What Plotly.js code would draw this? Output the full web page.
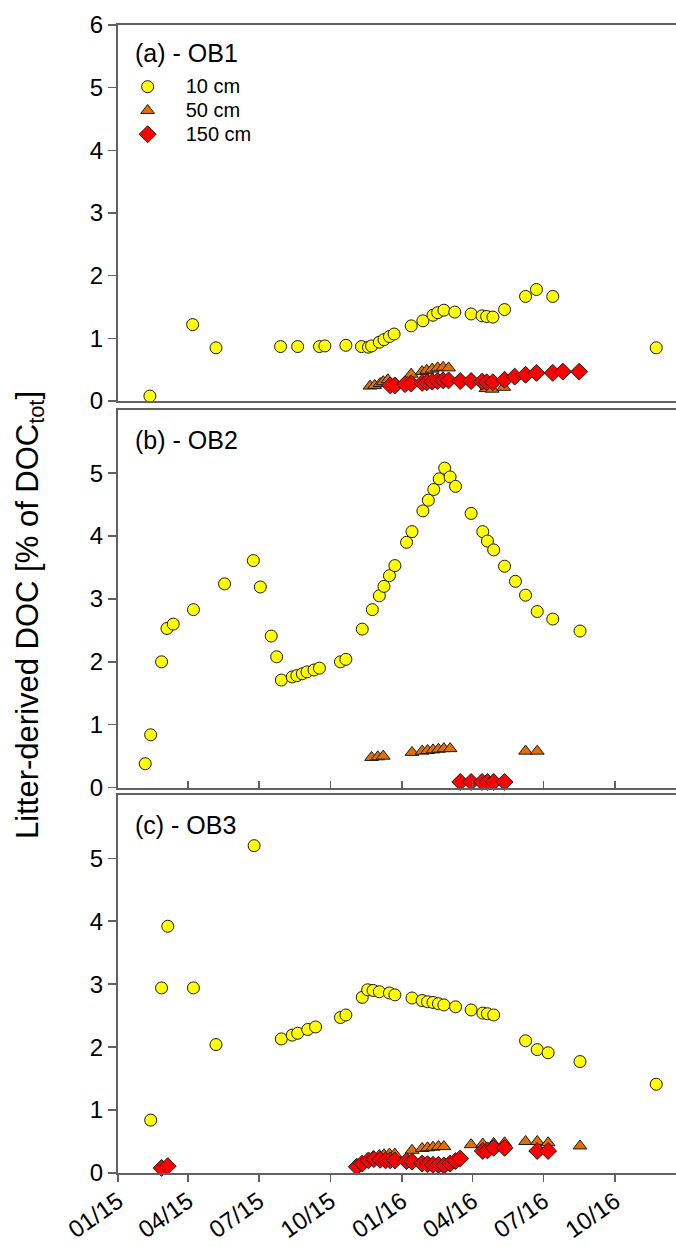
<!DOCTYPE html>
<html><head><meta charset="utf-8">
<script src="https://cdn.plot.ly/plotly-3.0.1.min.js"></script>
<style>body{margin:0;background:#fff}#chart{width:676px;height:1247px}</style>
</head><body><div id="chart"></div>
<script>
// ---------- Data ----------
const seriesNames = ['10 cm', '50 cm', '150 cm'];
const panelLabels = ['(a) - OB1', '(b) - OB2', '(c) - OB3'];
const xTickVals = ['2015-01-01','2015-04-01','2015-07-01','2015-10-01','2016-01-01','2016-04-01','2016-07-01','2016-10-01'];
const xTickText = ['01/15','04/15','07/15','10/15','01/16','04/16','07/16','10/16'];

// OB1
const ob1_10_x = ['2015-02-11','2015-04-07','2015-05-07','2015-07-29','2015-08-20','2015-09-17','2015-09-24','2015-10-21','2015-11-10','2015-11-19','2015-11-23','2015-12-03','2015-12-09','2015-12-16','2015-12-22','2016-01-13','2016-01-28','2016-02-10','2016-02-16','2016-02-24','2016-03-09','2016-03-30','2016-04-13','2016-04-19','2016-04-27','2016-05-12','2016-06-08','2016-06-22','2016-07-13','2016-11-23'];
const ob1_10_y = [0.08,1.22,0.85,0.87,0.87,0.87,0.88,0.89,0.87,0.86,0.88,0.94,0.98,1.03,1.07,1.20,1.28,1.37,1.41,1.45,1.42,1.39,1.36,1.35,1.34,1.46,1.67,1.78,1.67,0.85];
const ob1_50_x = ['2015-11-21','2015-11-27','2015-12-04','2015-12-08','2015-12-14','2016-01-13','2016-01-27','2016-02-02','2016-02-09','2016-02-16','2016-02-23','2016-03-01','2016-04-18','2016-04-26','2016-05-11'];
const ob1_50_y = [0.24,0.25,0.28,0.31,0.34,0.43,0.47,0.49,0.51,0.53,0.54,0.53,0.20,0.19,0.22];
const ob1_150_x = ['2015-12-17','2015-12-23','2016-01-05','2016-01-13','2016-01-27','2016-02-02','2016-02-09','2016-02-16','2016-02-23','2016-03-01','2016-03-16','2016-03-30','2016-04-13','2016-04-19','2016-04-27','2016-05-12','2016-05-25','2016-06-08','2016-06-22','2016-07-13','2016-07-26','2016-08-16'];
const ob1_150_y = [0.25,0.25,0.27,0.28,0.29,0.30,0.31,0.32,0.33,0.33,0.32,0.32,0.31,0.30,0.30,0.34,0.39,0.42,0.45,0.45,0.47,0.47];

// OB2
const ob2_10_x = ['2015-02-05','2015-02-12','2015-02-26','2015-03-05','2015-03-13','2015-04-08','2015-05-18','2015-06-24','2015-07-03','2015-07-17','2015-07-24','2015-07-30','2015-08-13','2015-08-19','2015-08-26','2015-09-01','2015-09-10','2015-09-17','2015-10-14','2015-10-21','2015-11-11','2015-11-24','2015-12-03','2015-12-09','2015-12-16','2015-12-23','2016-01-07','2016-01-14','2016-01-28','2016-02-04','2016-02-11','2016-02-18','2016-02-25','2016-03-03','2016-03-10','2016-03-30','2016-04-14','2016-04-20','2016-04-28','2016-05-12','2016-05-26','2016-06-08','2016-06-23','2016-07-13','2016-08-17'];
const ob2_10_y = [0.38,0.84,2.0,2.53,2.60,2.83,3.24,3.61,3.19,2.41,2.08,1.71,1.76,1.78,1.81,1.84,1.87,1.90,2.0,2.04,2.52,2.83,3.05,3.20,3.37,3.53,3.90,4.07,4.40,4.57,4.74,4.91,5.08,4.94,4.79,4.36,4.07,3.92,3.78,3.52,3.28,3.06,2.80,2.68,2.49];
const ob2_50_x = ['2015-11-23','2015-12-01','2015-12-08','2016-01-14','2016-01-27','2016-02-03','2016-02-10','2016-02-17','2016-02-24','2016-03-03','2016-06-08','2016-06-23'];
const ob2_50_y = [0.48,0.49,0.50,0.56,0.58,0.59,0.60,0.61,0.62,0.62,0.58,0.58];
const ob2_150_x = ['2016-03-16','2016-03-30','2016-04-13','2016-04-20','2016-04-28','2016-05-12'];
const ob2_150_y = [0.09,0.09,0.09,0.09,0.09,0.09];

// OB3
const ob3_10_x = ['2015-02-12','2015-02-26','2015-03-06','2015-04-08','2015-05-07','2015-06-25','2015-07-30','2015-08-13','2015-08-20','2015-09-02','2015-09-12','2015-10-14','2015-10-21','2015-11-11','2015-11-18','2015-11-25','2015-12-03','2015-12-16','2015-12-23','2016-01-14','2016-01-27','2016-02-03','2016-02-10','2016-02-17','2016-02-24','2016-03-10','2016-03-30','2016-04-14','2016-04-20','2016-04-28','2016-06-08','2016-06-23','2016-07-07','2016-08-17','2016-11-23'];
const ob3_10_y = [0.84,2.94,3.92,2.94,2.04,5.20,2.13,2.19,2.22,2.28,2.32,2.47,2.51,2.79,2.91,2.90,2.88,2.86,2.83,2.78,2.74,2.72,2.71,2.69,2.67,2.64,2.59,2.54,2.53,2.51,2.10,1.96,1.91,1.77,1.41];
const ob3_50_x = ['2015-11-18','2015-11-25','2015-12-03','2015-12-09','2015-12-16','2015-12-23','2016-01-14','2016-01-27','2016-02-03','2016-02-10','2016-02-17','2016-02-24','2016-03-30','2016-04-14','2016-04-28','2016-05-12','2016-06-08','2016-06-23','2016-07-07','2016-08-17'];
const ob3_50_y = [0.22,0.26,0.28,0.29,0.30,0.30,0.36,0.39,0.40,0.41,0.42,0.42,0.45,0.46,0.47,0.48,0.50,0.50,0.48,0.43];
const ob3_150_x = ['2015-02-26','2015-03-06','2015-11-04','2015-11-11','2015-11-19','2015-11-26','2015-12-04','2015-12-11','2015-12-17','2015-12-23','2016-01-07','2016-01-14','2016-01-27','2016-02-03','2016-02-10','2016-02-17','2016-02-24','2016-03-03','2016-03-10','2016-03-16','2016-04-14','2016-04-20','2016-04-28','2016-05-12','2016-06-23','2016-07-07'];
const ob3_150_y = [0.08,0.11,0.10,0.15,0.20,0.22,0.21,0.20,0.20,0.20,0.19,0.18,0.15,0.14,0.13,0.13,0.12,0.15,0.19,0.23,0.35,0.36,0.40,0.40,0.35,0.35];

// ---------- Styles ----------
const styles = [
  {symbol:'circle', color:'#FFFF00', size:12},
  {symbol:'triangle-up', color:'#E27000', size:12},
  {symbol:'diamond', color:'#FF0000', size:13}
];
const panels = [
  {xa:'x3', ya:'y3', data:[[ob1_10_x,ob1_10_y],[ob1_50_x,ob1_50_y],[ob1_150_x,ob1_150_y]], legend:true},
  {xa:'x2', ya:'y2', data:[[ob2_10_x,ob2_10_y],[ob2_50_x,ob2_50_y],[ob2_150_x,ob2_150_y]], legend:false},
  {xa:'x',  ya:'y',  data:[[ob3_10_x,ob3_10_y],[ob3_50_x,ob3_50_y],[ob3_150_x,ob3_150_y]], legend:false}
];
const traces = [];
panels.forEach(p => {
  p.data.forEach((d, i) => {
    const s = styles[i];
    traces.push({
      x: d[0], y: d[1], xaxis: p.xa, yaxis: p.ya, type: 'scatter', mode: 'markers',
      name: '<span style="font-size:20px">' + seriesNames[i] + '</span>',
      showlegend: p.legend, cliponaxis: false,
      marker: {symbol: s.symbol, color: s.color, size: s.size, line: {color: '#1a1a1a', width: 1}}
    });
  });
});

const axisColor = '#606060';
const xRange = ['2015-01-01', '2016-12-18 10:00'];
const fnt = 'Arial, "Liberation Sans", sans-serif';
function xax(extra) {
  return Object.assign({
    type:'date', range:xRange, showgrid:false, zeroline:false, showline:true, mirror:true,
    linecolor:axisColor, linewidth:2, tickcolor:axisColor, tickwidth:1.5,
    tickvals:xTickVals, ticktext:xTickText, fixedrange:true
  }, extra);
}
function yax(extra) {
  return Object.assign({
    range:[0,6], showgrid:false, zeroline:false, showline:true, mirror:false,
    linecolor:axisColor, linewidth:2, ticks:'outside', ticklen:8, tickcolor:axisColor, tickwidth:1.5,
    tickfont:{size:24, color:'#000', family:fnt}, fixedrange:true
  }, extra);
}

const layout = {
  width:676, height:1247,
  margin:{l:118, r:0, t:25, b:74},
  paper_bgcolor:'#fff', plot_bgcolor:'#fff',
  font:{family:fnt, color:'#000'},
  showlegend:true,
  legend:{x:-0.015, y:0.961, xanchor:'left', yanchor:'top', itemwidth:66,
          font:{size:16, family:fnt, color:'#000'}, bgcolor:'rgba(0,0,0,0)', tracegroupgap:0},
  xaxis: xax({domain:[0,1], anchor:'y', ticks:'outside', ticklen:7, showticklabels:true, tickangle:-35,
             ticklabelstandoff:-4, tickfont:{size:24, color:'#000', family:fnt}}),
  xaxis2: xax({domain:[0,1], anchor:'y2', ticks:'inside', ticklen:7, showticklabels:false}),
  xaxis3: xax({domain:[0,1], anchor:'y3', ticks:'', showticklabels:false}),
  yaxis: yax({domain:[0,0.329], anchor:'x', tickvals:[0,1,2,3,4,5]}),
  yaxis2: yax({domain:[0.3357,0.6644], anchor:'x2', tickvals:[0,1,2,3,4,5]}),
  yaxis3: yax({domain:[0.6724,1], anchor:'x3', tickvals:[0,1,2,3,4,5,6]}),
  annotations: [
    {text:panelLabels[0], xref:'paper', yref:'paper', x:0.027, y:0.9756, xanchor:'left', yanchor:'middle', showarrow:false, font:{size:25, family:fnt, color:'#000'}},
    {text:panelLabels[1], xref:'paper', yref:'paper', x:0.027, y:0.6385, xanchor:'left', yanchor:'middle', showarrow:false, font:{size:25, family:fnt, color:'#000'}},
    {text:panelLabels[2], xref:'paper', yref:'paper', x:0.027, y:0.3031, xanchor:'left', yanchor:'middle', showarrow:false, font:{size:25, family:fnt, color:'#000'}},
    {text:'Litter-derived DOC [% of DOC<sub>tot</sub>]', xref:'paper', yref:'paper', x:-0.158, y:0.486, xanchor:'center', yanchor:'middle', textangle:-90, showarrow:false, font:{size:31, family:fnt, color:'#000'}}
  ]
};
Plotly.newPlot('chart', traces, layout, {staticPlot:true, displayModeBar:false});
</script>
</body></html>
